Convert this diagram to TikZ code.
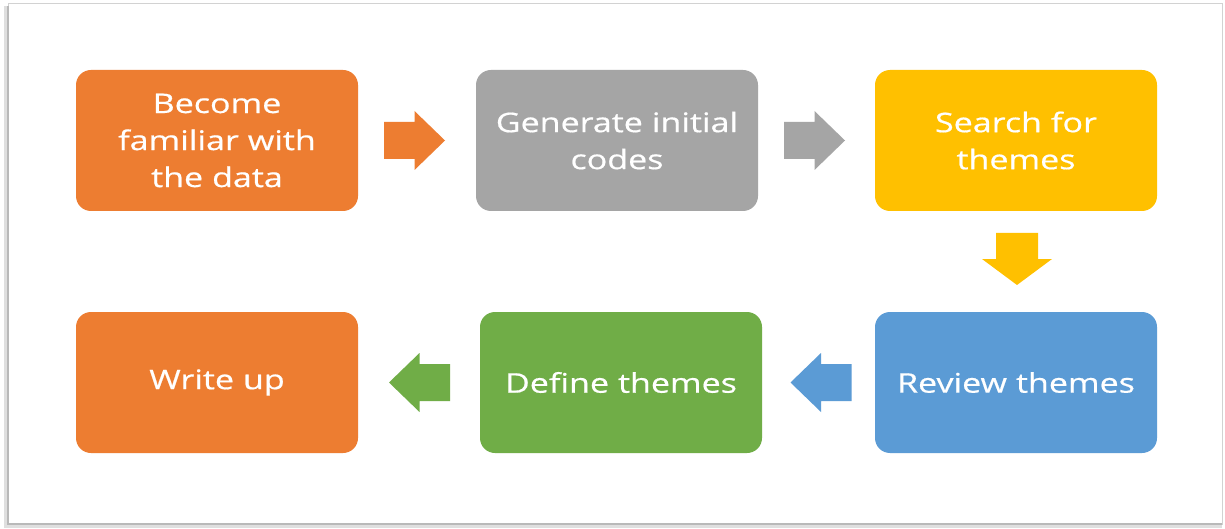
\documentclass[tikz,border=0pt]{standalone}
\usepackage{fontspec}
\setmainfont{Open Sans}[FakeStretch=1.26, FakeBold=0.6]
\usetikzlibrary{calc}
\definecolor{cOrange}{HTML}{ED7D31}
\definecolor{cGray}{HTML}{A5A5A5}
\definecolor{cYellow}{HTML}{FFC000}
\definecolor{cBlue}{HTML}{5B9BD5}
\definecolor{cGreen}{HTML}{70AD47}
\tikzset{
  stagebox/.style={rounded corners=15pt, minimum width=282pt, minimum height=141pt,
    inner sep=0pt, text width=276pt, align=center, text=white,
    font=\fontsize{27}{37}\selectfont},
  % block arrow centred on the origin, pointing to the right
  blockarrow/.pic={
    \fill[pic actions] (-30.5,-18.5) -- (0,-18.5) -- (0,-29.5) -- (30.5,0)
      -- (0,29.5) -- (0,18.5) -- (-30.5,18.5) -- cycle;
  },
  % shorter, broader block arrow for the turn between the rows
  broadarrow/.pic={
    \fill[pic actions] (-26,-21) -- (0,-21) -- (0,-35) -- (26,0)
      -- (0,35) -- (0,21) -- (-26,21) -- cycle;
  },
}
\begin{document}
\begin{tikzpicture}[x=1pt,y=-1pt]
  \useasboundingbox (0,0) rectangle (1225,529);
  % page frame with a soft shadow at left and bottom
  \fill[gray!25] (4,6) rectangle (1222,528);
  \fill[white] (8,4) rectangle (1222,524);
  \draw[gray!35, line width=1pt] (8,4) rectangle (1222,524);
  \draw[gray!55, line width=1.5pt] (8,6) -- (8,524) -- (1222,524);

  % process stages
  \node[stagebox, fill=cOrange] (familiar) at (217,140.5) {Become\\familiar with\\the data};
  \node[stagebox, fill=cGray]   (codes)    at (617,140.5) {Generate initial\\codes};
  \node[stagebox, fill=cYellow] (search)   at (1016,140.5) {Search for\\themes};
  \node[stagebox, fill=cBlue]   (review)   at (1016,382.5) {Review themes};
  \node[stagebox, fill=cGreen]  (define)   at (621,382.5) {Define themes};
  \node[stagebox, fill=cOrange] (write)    at (217,382.5) {Write up};

  % arrow positions between the stages
  \coordinate (a1) at ($(familiar.east)!0.5!(codes.west)+(-2.5,0)$);
  \coordinate (a2) at ($(codes.east)!0.5!(search.west)+(-2,0)$);
  \coordinate (a3) at ($(search.south)!0.5!(review.north)+(1,-2.5)$);
  \coordinate (a4) at ($(review.west)!0.5!(define.east)+(2.5,0)$);
  \coordinate (a5) at ($(define.west)!0.5!(write.east)+(0.5,0)$);

  % block arrows
  \pic[fill=cOrange] at (a1) {blockarrow};
  \pic[fill=cGray] at (a2) {blockarrow};
  \pic[fill=cYellow, rotate=-90] at (a3) {broadarrow};
  \pic[fill=cBlue, rotate=180] at (a4) {blockarrow};
  \pic[fill=cGreen, rotate=180] at (a5) {blockarrow};
\end{tikzpicture}
\end{document}
